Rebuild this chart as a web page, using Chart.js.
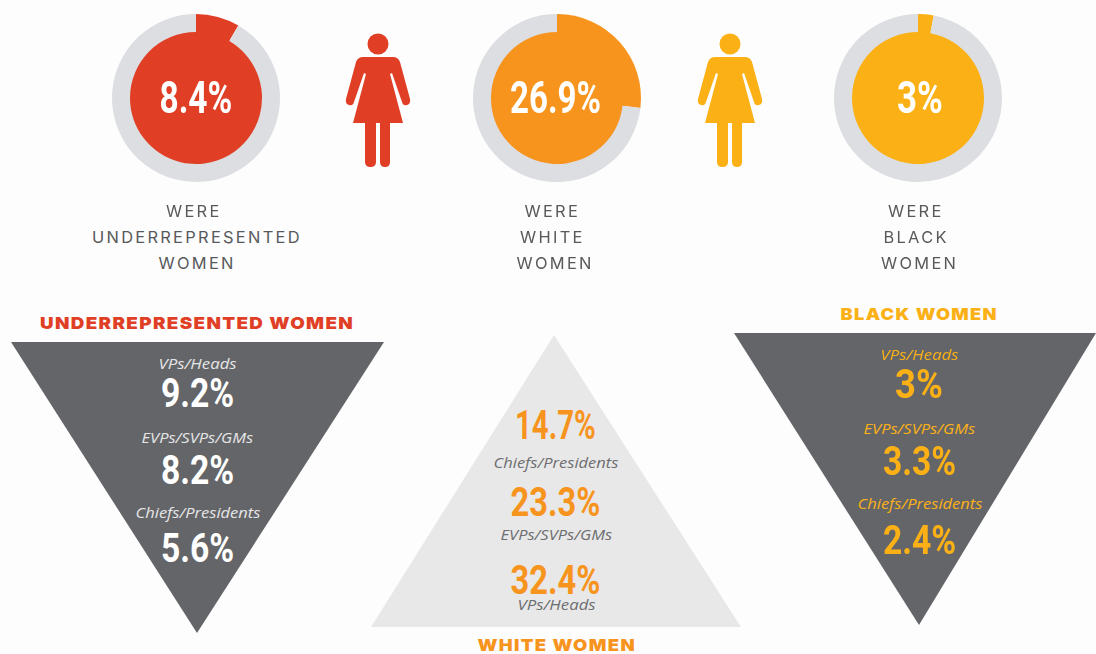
<!DOCTYPE html>
<html>
<head>
<meta charset="utf-8">
<script src="https://cdn.jsdelivr.net/npm/chart.js@4"></script>
<style>
html,body{margin:0;padding:0;background:#fdfdfd;width:1096px;height:654px;overflow:hidden}
#stage{position:relative;width:1096px;height:654px}
#stage canvas,#stage svg{position:absolute}
.t{position:absolute;white-space:nowrap;line-height:1;transform-origin:center center}
.num{font-family:"Liberation Sans Narrow","Roboto",sans-serif;font-weight:700}
.cap{font-family:"Inter",sans-serif;font-weight:400}
.head{font-family:"Inter",sans-serif;font-weight:900}
.role{font-family:"Open Sans",sans-serif;font-style:italic}
</style>
</head>
<body>
<div id="stage">
<svg width="1096" height="654" style="left:0;top:0">
  <polygon points="11,342 384,342 197,633" fill="#646569"/>
  <polygon points="554,335 741,627 371,627" fill="#e8e8e8"/>
  <polygon points="734,333 1096,333 919,625" fill="#646569"/>
  <defs>
    <g id="woman">
      <circle cx="378" cy="44" r="10.5"/>
      <path d="M363 57 H393 Q398 57 400 62 L410 99 Q411 104 407 105 Q403 106 402 102 L392 73 L390 74 L403 123 H390 V162 Q390 167 385 167 Q380 167 380 162 V123 H376 V162 Q376 167 370.500 167 Q365 167 365 162 V123 H353 L366 74 L364 73 L354 102 Q353 106 349 105 Q345 104 346 99 L356 62 Q358 57 363 57 Z"/>
    </g>
  </defs>
  <use href="#woman" fill="#e03f26"/>
  <use href="#woman" x="352" fill="#fbb116"/>
</svg>
</div>
<script>
// Data
const groups = ["Underrepresented", "White", "Black"];
const overall = [8.4, 26.9, 3];
const overallLabels = ["8.4%", "26.9%", "3%"];
const vpsHeads = ["9.2%", "32.4%", "3%"];
const evpsSvpsGms = ["8.2%", "23.3%", "3.3%"];
const chiefsPresidents = ["5.6%", "14.7%", "2.4%"];
const captions = [["WERE","UNDERREPRESENTED","WOMEN"],["WERE","WHITE","WOMEN"],["WERE","BLACK","WOMEN"]];
const headings = ["UNDERREPRESENTED WOMEN","WHITE WOMEN","BLACK WOMEN"];
const roles = ["VPs/Heads","EVPs/SVPs/GMs","Chiefs/Presidents"];

// Styling and layout
const fills = ["#e03f26","#f7941e","#fbb116"];
const ringGray = "#dcdee1";
const donutCx = [196,557,918], donutCy = 98;
const captionX = [[194,197,197],[552.5,552.5,555],[916,916,919.5]], captionY = [211,237,263];
const headX = [197,556,919], headY = [323,645,314], headW = [314,158,158];
const stage = document.getElementById("stage");

function text(str, x, y, cls, size, color, targetW, spacing){
  const s = document.createElement("div");
  s.className = "t " + cls;
  s.textContent = str;
  s.style.fontSize = size + "px";
  s.style.color = color;
  if (spacing) s.style.letterSpacing = spacing + "px";
  stage.appendChild(s);
  const w = s.offsetWidth, h = s.offsetHeight;
  s.style.left = (x - w/2) + "px";
  s.style.top = (y - h/2) + "px";
  if (targetW) s.style.transform = "scaleX(" + (targetW / w) + ")";
}

// Doughnuts
groups.forEach((g,i)=>{
  const c = document.createElement("canvas");
  c.width = 180; c.height = 180;
  c.style.left = (donutCx[i]-90) + "px";
  c.style.top = (donutCy-90) + "px";
  stage.appendChild(c);
  new Chart(c,{
    type:"doughnut",
    data:{labels:[g,"Others"],datasets:[
      {data:[overall[i],100-overall[i]],backgroundColor:[fills[i],ringGray],borderWidth:0,weight:18},
      {data:[100],backgroundColor:[fills[i]],borderColor:[fills[i]],borderWidth:2,weight:66}
    ]},
    options:{responsive:false,animation:false,cutout:0,radius:84,
      plugins:{legend:{display:false},tooltip:{enabled:false}}}
  });
  text(overallLabels[i],[196,555.5,919.5][i],donutCy,"num",44,"#fff",[73,91,46][i]);
  captions[i].forEach((l,k)=>text(l,captionX[i][k],captionY[k],"cap",16.400,"#58595b",null,2.3));
  text(headings[i],headX[i],headY[i],"head",16.500,fills[i],headW[i],1.200);
});

// Triangle contents
const dim = "#e6e6e6";
const rows = [
 {x:197,c:"#fff",rc:dim,items:[[roles[0],364,0],[vpsHeads[0],393,1],[roles[1],438,0],[evpsSvpsGms[0],470,1],[roles[2],513,0],[chiefsPresidents[0],548,1]]},
 {x:555.5,c:fills[1],rc:"#6d6e70",items:[[chiefsPresidents[1],425,1],[roles[2],463,0],[evpsSvpsGms[1],502,1],[roles[1],535,0],[vpsHeads[1],580,1],[roles[0],605,0]]},
 {x:919,c:fills[2],rc:fills[2],items:[[roles[0],355,0],[vpsHeads[2],384,1],[roles[1],429,0],[evpsSvpsGms[2],461,1],[roles[2],504,0],[chiefsPresidents[2],540,1]]}
];
const numW = s => s==="14.7%"?81 : s.length==5?90 : s.length==4?73 : 48;
rows.forEach(r=>r.items.forEach(it=>{
  if(it[2]) text(it[0],r.x,it[1],"num",41,r.c,numW(it[0]));
  else text(it[0],r.x+0.5,it[1],"role",14,r.rc,{9:78,13:112,17:125}[it[0].length]);
}));
</script>
</body>
</html>
